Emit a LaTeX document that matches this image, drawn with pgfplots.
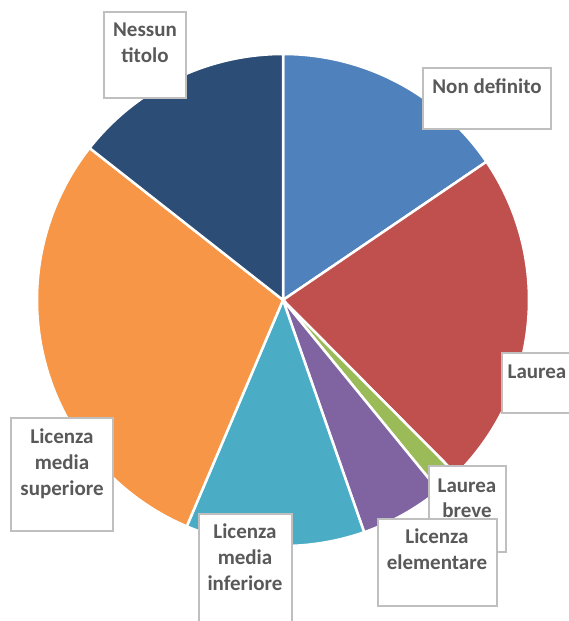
\documentclass[border=0pt]{standalone}
\usepackage{pgfplots}
\pgfplotsset{compat=1.18}
\usepackage{pgfplotstable}
\usepackage{fontspec}
\setmainfont{Carlito}
\definecolor{slice0}{HTML}{4F81BD}
\definecolor{slice1}{HTML}{C0504D}
\definecolor{slice2}{HTML}{9BBB59}
\definecolor{slice3}{HTML}{8064A2}
\definecolor{slice4}{HTML}{4BACC6}
\definecolor{slice5}{HTML}{F79646}
\definecolor{slice6}{HTML}{2C4D75}
\definecolor{lbltext}{HTML}{595959}
\definecolor{lblbox}{HTML}{BFBFBF}
\pgfplotstableread[col sep=comma]{
label,value
Non definito,15.5
Laurea,22.05
Laurea breve,1.55
Licenza elementare,5.55
Licenza media inferiore,11.75
Licenza media superiore,29.2
Nessun titolo,14.4
}\piedata
\begin{document}
\begin{tikzpicture}[
  lbl/.style={anchor=base, text=lbltext, font=\fontsize{21}{26}\selectfont\bfseries, inner sep=0pt},
  box/.style={draw=lblbox, fill=white, line width=1.5pt}]
\begin{axis}[
  width=568pt, height=621pt, scale only axis, hide axis,
  xmin=0, xmax=568, ymin=0, ymax=621, y dir=reverse, clip=false]
\pgfmathsetmacro\startang{90}
\pgfplotsforeachungrouped \i in {0,...,6}{%
  \pgfplotstablegetelem{\i}{value}\of\piedata
  \pgfmathsetmacro\endang{\startang - 3.6*\pgfplotsretval}%
  \edef\doslice{\noexpand\fill[slice\i, draw=white, line width=2.5pt, line join=round] (axis cs:283,300) -- ++(\startang:246pt) arc[start angle=\startang, end angle=\endang, radius=246pt] -- cycle;}%
  \doslice
  \global\let\startang\endang
}
% label boxes
\draw[box] (axis cs:104,12) rectangle (axis cs:186,98);
\node[lbl] at (axis cs:145,36) {Nessun};
\node[lbl] at (axis cs:145,62) {titolo};
\draw[box] (axis cs:423,68) rectangle (axis cs:551,129);
\node[lbl] at (axis cs:487,93) {Non definito};
\draw[box] (axis cs:502,353) rectangle (axis cs:578,413);
\node[lbl] at (axis cs:537,378) {Laurea};
\draw[box] (axis cs:429,466) rectangle (axis cs:506,552);
\node[lbl] at (axis cs:467,492) {Laurea};
\node[lbl] at (axis cs:467,517) {breve};
\draw[box] (axis cs:378,519) rectangle (axis cs:497,606);
\node[lbl] at (axis cs:437,543) {Licenza};
\node[lbl] at (axis cs:437,569) {elementare};
\draw[box] (axis cs:11,418) rectangle (axis cs:113,531);
\node[lbl] at (axis cs:62,443) {Licenza};
\node[lbl] at (axis cs:62,469) {media};
\node[lbl] at (axis cs:62,495) {superiore};
\draw[box] (axis cs:199,514) rectangle (axis cs:292,640);
\node[lbl] at (axis cs:245,538) {Licenza};
\node[lbl] at (axis cs:245,564) {media};
\node[lbl] at (axis cs:245,590) {inferiore};
\end{axis}
\pgfresetboundingbox
\useasboundingbox (current axis.south west) rectangle (current axis.north east);
\end{tikzpicture}
\end{document}
